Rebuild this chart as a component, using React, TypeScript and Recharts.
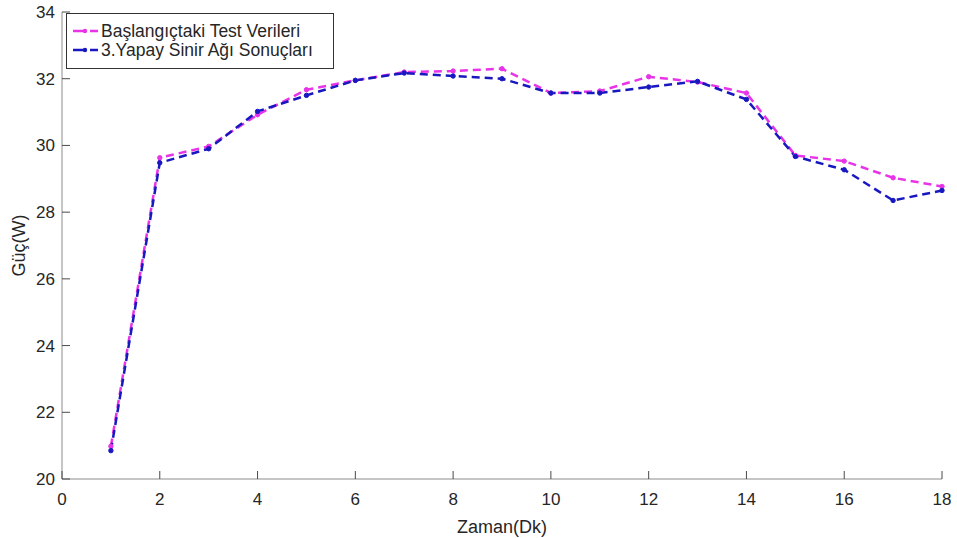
import * as React from 'react';
import { LineChart, Line, XAxis, YAxis, Legend } from 'recharts';

const zaman = [1, 2, 3, 4, 5, 6, 7, 8, 9, 10, 11, 12, 13, 14, 15, 16, 17, 18];
const testVerileri = [20.98, 29.63, 29.97, 30.92, 31.67, 31.95, 32.2, 32.23, 32.3, 31.57, 31.63, 32.06, 31.9, 31.57, 29.7, 29.53, 29.03, 28.77];
const ysaSonuclari = [20.85, 29.48, 29.9, 31.02, 31.5, 31.95, 32.17, 32.08, 32.0, 31.57, 31.57, 31.75, 31.92, 31.38, 29.67, 29.27, 28.35, 28.65];

const xTicks = [0, 2, 4, 6, 8, 10, 12, 14, 16, 18];
const yTicks = [20, 22, 24, 26, 28, 30, 32, 34];

const seriesNames = ['Başlangıçtaki Test Verileri', '3.Yapay Sinir Ağı Sonuçları'];
const MAGENTA = '#e833e8';
const BLUE = '#1818c0';

const FONT = '"Liberation Sans", Arial, sans-serif';
const TEXT = '#262626';
const AXIS = '#8c8c8c';
const TICK = '#4a4a4a';
const TICK_LEN = 8;

const data = zaman.map((z, i) => ({
  zaman: z,
  test: testVerileri[i],
  ysa: ysaSonuclari[i],
}));

const BottomTick = ({ x, y, payload }: any) => (
  <g>
    <line x1={x} x2={x} y1={y} y2={y - TICK_LEN} stroke={TICK} />
    <text x={x} y={y + 26} textAnchor="middle" fill={TEXT} fontSize={17} fontFamily={FONT}>
      {payload.value}
    </text>
  </g>
);

const LeftTick = ({ x, y, payload }: any) => (
  <g>
    <line x1={x} x2={x + TICK_LEN} y1={y} y2={y} stroke={TICK} />
    <text x={x - 7} y={y} dy="0.35em" textAnchor="end" fill={TEXT} fontSize={17} fontFamily={FONT}>
      {payload.value}
    </text>
  </g>
);

const TopTick = ({ x, y }: any) => <line x1={x} x2={x} y1={y} y2={y + TICK_LEN} stroke={TICK} />;
const RightTick = ({ x, y }: any) => <line x1={x} x2={x - TICK_LEN} y1={y} y2={y} stroke={TICK} />;

// legend in MATLAB style: boxed, top-left inside the axes
const BoxLegend = ({ payload }: any) => {
  const items = [...(payload || [])].sort(
    (a: any, b: any) => seriesNames.indexOf(a.value) - seriesNames.indexOf(b.value)
  );
  return (
    <div style={{ width: 268, height: 56, border: '1px solid #333', background: '#fff', boxSizing: 'border-box' }}>
      <svg width={266} height={54} style={{ display: 'block' }}>
        {items.map((entry: any, i: number) => {
          const cy = 17 + i * 19;
          return (
            <g key={entry.value}>
              <line x1={6} x2={31} y1={cy} y2={cy} stroke={entry.color} strokeWidth={2.5} strokeDasharray="13 4" />
              <circle cx={18} cy={cy} r={2.2} fill={entry.color} />
              <text x={34} y={cy} dy="0.35em" fill={TEXT} fontSize={17.5} fontFamily={FONT}>
                {entry.value}
              </text>
            </g>
          );
        })}
      </svg>
    </div>
  );
};

export default function App() {
  return (
    <div style={{ position: 'fixed', left: 0, top: 0, width: 957, height: 538, background: '#fff' }}>
      <LineChart width={957} height={538} data={data} margin={{ top: 12, right: 15, bottom: 0, left: 0 }}>
        <XAxis
          dataKey="zaman"
          type="number"
          domain={[0, 18]}
          ticks={xTicks}
          interval={0}
          height={59}
          tickSize={0}
          tickMargin={0}
          tickLine={false}
          axisLine={{ stroke: AXIS }}
          tick={<BottomTick />}
          label={{
            value: 'Zaman(Dk)',
            position: 'insideBottom',
            offset: 5,
            fill: TEXT,
            fontSize: 18,
            fontFamily: FONT,
          }}
        />
        <XAxis
          xAxisId="top"
          orientation="top"
          dataKey="zaman"
          type="number"
          domain={[0, 18]}
          ticks={xTicks}
          interval={0}
          height={0}
          tickSize={0}
          tickMargin={0}
          tickLine={false}
          axisLine={{ stroke: AXIS }}
          tick={<TopTick />}
        />
        <YAxis
          type="number"
          domain={[20, 34]}
          ticks={yTicks}
          interval={0}
          width={62}
          tickSize={0}
          tickMargin={0}
          tickLine={false}
          axisLine={{ stroke: AXIS }}
          tick={<LeftTick />}
          label={({ viewBox }: any) => {
            const cx = 19;
            const cy = viewBox.y + viewBox.height / 2;
            return (
              <text
                x={cx}
                y={cy}
                transform={`rotate(-90, ${cx}, ${cy})`}
                textAnchor="middle"
                dy="0.35em"
                fill={TEXT}
                fontSize={18}
                fontFamily={FONT}
              >
                Güç(W)
              </text>
            );
          }}
        />
        <YAxis
          yAxisId="right"
          orientation="right"
          type="number"
          domain={[20, 34]}
          ticks={yTicks}
          interval={0}
          width={0}
          tickSize={0}
          tickMargin={0}
          tickLine={false}
          axisLine={{ stroke: AXIS }}
          tick={<RightTick />}
        />
        <Legend
          layout="horizontal"
          align="center"
          verticalAlign="middle"
          content={<BoxLegend />}
          wrapperStyle={{ position: 'absolute', left: 66, top: 13, width: 268, height: 56 }}
        />
        <Line
          dataKey="test"
          name={seriesNames[0]}
          stroke={MAGENTA}
          strokeWidth={2.5}
          strokeDasharray="8 5"
          dot={{ r: 2.2, fill: MAGENTA, stroke: MAGENTA, strokeWidth: 1, strokeDasharray: '' }}
          isAnimationActive={false}
        />
        <Line
          dataKey="ysa"
          name={seriesNames[1]}
          stroke={BLUE}
          strokeWidth={2.5}
          strokeDasharray="8 5"
          dot={{ r: 2.2, fill: BLUE, stroke: BLUE, strokeWidth: 1, strokeDasharray: '' }}
          isAnimationActive={false}
        />
      </LineChart>
    </div>
  );
}
